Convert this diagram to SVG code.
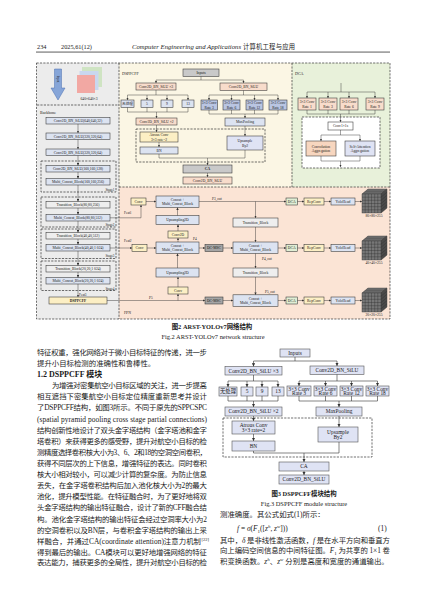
<svg xmlns="http://www.w3.org/2000/svg" width="427" height="603" viewBox="0 0 427 603">
<defs>
<style>
.f{font-family:"Liberation Serif","Noto Sans CJK SC",serif;fill:#1a1a1a}
.s{font-size:3.7px;text-anchor:middle}
.st{font-size:3.3px;text-anchor:end}
.m{font-size:5.4px;text-anchor:middle}
.b{font-size:7.4px}
.h{font-size:6.3px}
.cap{font-size:6.4px;text-anchor:middle}
.c{stroke:#333;stroke-width:0.45;fill:none}
.c3{stroke:#333;stroke-width:0.6;fill:none}
.ar{marker-end:url(#a)}
.ar3{marker-end:url(#a3)}
.dash{fill:none;stroke:#333;stroke-width:0.7;stroke-dasharray:2.2 1.2}
.bx{stroke:#333;stroke-width:0.55}
.bx3{stroke:#555;stroke-width:0.6}
.lb{fill:#dce3f1}
.yl{fill:#fcefc4}
.gy{fill:#c9c9c9}
.lg{fill:#eeeeee}
.pc{fill:#f8dccb}
.db{fill:#b9c5e2}
.gn{fill:#e0eed4}
.dg{fill:#a5a5a5}
.lv{fill:#dfe3f4}
.wh{fill:#ffffff}
</style>
<marker id="a" viewBox="0 0 6 6" refX="6" refY="3" markerWidth="2.4" markerHeight="2.4" markerUnits="userSpaceOnUse" orient="auto"><path d="M0,0 L6,3 L0,6 z" fill="#333"/></marker>
<marker id="a3" viewBox="0 0 6 6" refX="6" refY="3" markerWidth="3.2" markerHeight="3.2" markerUnits="userSpaceOnUse" orient="auto"><path d="M0,0 L6,3 L0,6 z" fill="#333"/></marker>
<g id="cube">
<polygon points="0,5 6,0 25,0 19,5" fill="#8c8c8c" stroke="#333" stroke-width="0.4"/>
<polygon points="19,5 25,0 25,19 19,24" fill="#5a5a5a" stroke="#333" stroke-width="0.4"/>
<rect x="0" y="5" width="19" height="19" fill="#777" stroke="#333" stroke-width="0.4"/>
<path d="M3.2,5V24M6.3,5V24M9.5,5V24M12.7,5V24M15.8,5V24M0,8.2H19M0,11.3H19M0,14.5H19M0,17.7H19M0,20.8H19M1,4.2H20M2,3.3H21M3,2.5H22M4,1.7H23M5,0.8H24M20,4.2V23.2M21,3.3V22.3M22,2.5V21.5M23,1.7V20.7M24,0.8V19.8M19,8.2L25,3.2M19,11.3L25,6.3M19,14.5L25,9.5M19,17.7L25,12.7M19,20.8L25,15.8" stroke="#2a2a2a" stroke-width="0.35" fill="none"/>
</g>
</defs>
<rect width="427" height="603" fill="#fff"/>

<!-- header -->
<g id="header">
<text class="f h" x="37" y="49">234</text>
<text class="f h" x="61" y="49">2025,61(12)</text>
<text class="f h" x="132" y="49" font-style="italic" textLength="109" lengthAdjust="spacingAndGlyphs">Computer Engineering and Applications</text>
<text class="f h" x="243" y="49" textLength="52" lengthAdjust="spacing">计算机工程与应用</text>
<rect x="36" y="51.3" width="354" height="1.6" fill="#9a9a9a"/>
</g>

<!-- Figure 2 panels -->
<g id="panels">
<rect x="37" y="63" width="82" height="256" fill="#ececec"/>
<rect x="119" y="63" width="173" height="124" fill="#fbf6e4"/>
<rect x="292" y="63" width="98" height="124" fill="#e8f1da"/>
<rect x="119" y="187" width="271" height="132" fill="#fbe4d5"/>
<rect class="dash" x="36.5" y="63" width="353.5" height="256"/>
<path class="dash" d="M37,105H119M119,63V319M119,187H390M292,63V187"/>
<text class="f" x="40" y="113.5" font-size="4">Backbone</text>
<text class="f" x="122" y="74.5" font-size="4">DSPPCFF</text>
<text class="f" x="295" y="74.5" font-size="4">DCA</text>
<text class="f" x="124" y="313.5" font-size="3.8">FPN</text>
</g>

<!-- input -->
<g id="input">
<polygon points="54.5,69 61.5,69 61.5,88 65,88 58,100 51,88 54.5,88" fill="#86a5d8" stroke="#4a6fb0" stroke-width="0.5"/>
<text class="f" x="58" y="79" font-size="3.3" text-anchor="middle" transform="rotate(90 58 79)" dominant-baseline="central">Input</text>
<rect x="82" y="67" width="20" height="20" fill="#cfe4c3"/>
<rect x="79.5" y="71" width="19" height="19" fill="#c9d7ef"/>
<rect x="77" y="75" width="18" height="18" fill="#f2a8a3"/>
<text class="f s" x="89" y="100">640×640×3</text>
</g>

<!-- Backbone -->
<g id="stages">
<rect x="41" y="161" width="75" height="31" fill="#f6f6f6" class="dash"/>
<rect x="41" y="197" width="75" height="30" fill="#f6f6f6" class="dash"/>
<rect x="41" y="229" width="75" height="29.5" fill="#f6f6f6" class="dash"/>
<rect x="41" y="261" width="75" height="29.5" fill="#f6f6f6" class="dash"/>
<text class="f st" x="114.5" y="191">Stage1</text>
<text class="f st" x="114.5" y="226">Stage2</text>
<text class="f st" x="114.5" y="257.3">Stage3</text>
<text class="f st" x="114.5" y="289.5">Stage4</text>
</g>
<g id="bb1"><rect class="bx lb" x="46" y="117.5" width="64" height="6.5"/><text class="f s" x="78" y="122.1">Conv2D_BN_SiLU(640,640,32)</text></g>
<g id="bb2"><rect class="bx lb" x="46" y="133" width="64" height="6.5"/><text class="f s" x="78" y="137.6">Conv2D_BN_SiLU(320,320,64)</text></g>
<g id="bb3"><rect class="bx lb" x="46" y="149" width="64" height="6.5"/><text class="f s" x="78" y="153.6">Conv2D_BN_SiLU(320,320,64)</text></g>
<g id="s1a"><rect class="bx lb" x="46" y="165.5" width="64" height="6.5"/><text class="f s" x="78" y="170.1">Conv2D_BN_SiLU(160,160,128)</text></g>
<g id="s1b"><rect class="bx lb" x="46" y="178.5" width="64" height="6.5"/><text class="f s" x="78" y="183.1">Multi_Concat_Block(160,160,256)</text></g>
<g id="s2a"><rect class="bx lg" x="46" y="201.5" width="64" height="6.5"/><text class="f s" x="78" y="206.1">Transition_Block(80,80,256)</text></g>
<g id="s2b"><rect class="bx lb" x="46" y="214.5" width="64" height="6.5"/><text class="f s" x="78" y="219.1">Multi_Concat_Block(80,80,512)</text></g>
<g id="s3a"><rect class="bx lg" x="46" y="232.5" width="64" height="6.5"/><text class="f s" x="78" y="237.1">Transition_Block(40,40,512)</text></g>
<g id="s3b"><rect class="bx lb" x="46" y="244.5" width="64" height="6.5"/><text class="f s" x="78" y="249.1">Multi_Concat_Block(40,40,1 024)</text></g>
<g id="s4a"><rect class="bx lg" x="46" y="265.5" width="64" height="6.5"/><text class="f s" x="78" y="270.1">Transition_Block(20,20,1 024)</text></g>
<g id="s4b"><rect class="bx lb" x="46" y="277.5" width="64" height="6.5"/><text class="f s" x="78" y="282.1">Multi_Concat_Block(20,20,1 024)</text></g>
<g id="bbspp"><rect class="bx yl" x="49" y="297" width="58" height="7"/><text class="f s" x="78" y="301.8" font-weight="bold">DSPPCFF</text></g>

<!-- DSPPCFF panel nodes -->
<g id="d_in"><rect class="bx gy" x="183" y="69" width="36" height="7.5"/><text class="f s" x="201" y="74">Inputs</text></g>
<g id="d_c3"><rect class="bx pc" x="136" y="83" width="40" height="7"/><text class="f s" x="156" y="87.8">Conv2D_BN_SiLU ×3</text></g>
<g id="d_cr"><rect class="bx pc" x="220" y="83" width="47" height="7.5"/><text class="f s" x="243.5" y="88">Conv2D_BN_SiLU</text></g>
<g id="d_p0"><rect class="bx lb" x="121" y="100" width="13" height="7.5"/><text class="f s" x="127.5" y="105">无处理</text></g>
<g id="d_p5"><rect class="bx lb" x="141" y="100" width="12" height="7.5"/><text class="f s" x="147" y="105">5</text></g>
<g id="d_p9"><rect class="bx lb" x="161" y="100" width="12" height="7.5"/><text class="f s" x="167" y="105">9</text></g>
<g id="d_p13"><rect class="bx lb" x="182" y="100" width="12" height="7.5"/><text class="f s" x="188" y="105">13</text></g>
<g id="d_r3"><rect class="bx db" x="201" y="100" width="16.5" height="10"/><text class="f s" x="209.2" y="104.2">3×3 Conv</text><text class="f s" x="209.2" y="108.6">Rate 3</text></g>
<g id="d_r6"><rect class="bx db" x="223" y="100" width="17" height="10"/><text class="f s" x="231.5" y="104.2">3×3 Conv</text><text class="f s" x="231.5" y="108.6">Rate 6</text></g>
<g id="d_r12"><rect class="bx db" x="246" y="100" width="17" height="10"/><text class="f s" x="254.5" y="104.2">3×3 Conv</text><text class="f s" x="254.5" y="108.6">Rate 12</text></g>
<g id="d_r18"><rect class="bx db" x="269" y="100" width="18" height="10"/><text class="f s" x="278" y="104.2">3×3 Conv</text><text class="f s" x="278" y="108.6">Rate 18</text></g>
<g id="d_c2"><rect class="bx pc" x="136" y="118" width="41" height="7"/><text class="f s" x="156.5" y="122.8">Conv2D_BN_SiLU ×2</text></g>
<g id="d_mp"><rect class="bx lb" x="225" y="118" width="40" height="8"/><text class="f s" x="245" y="123.3">MaxPooling</text></g>
<rect class="dash" x="136" y="129" width="129" height="33" stroke-width="0.6"/>
<g id="d_at"><rect class="bx yl" x="140" y="132" width="38" height="10"/><text class="f s" x="159" y="136.3">Atrous Conv</text><text class="f s" x="159" y="140.6">3×3 rate=2</text></g>
<g id="d_bn"><rect class="bx lb" x="140" y="147" width="38" height="7"/><text class="f s" x="159" y="151.8">BN</text></g>
<g id="d_up"><rect class="bx lv" x="227" y="136" width="36" height="14"/><text class="f s" x="245" y="142">Upsample</text><text class="f s" x="245" y="146.6">By2</text></g>
<g id="d_ca"><rect class="bx gy" x="183" y="165" width="49" height="8"/><text class="f s" x="207.5" y="170.3" font-weight="bold">CA</text></g>
<g id="d_out"><rect class="bx pc" x="183" y="177" width="49" height="7"/><text class="f s" x="207.5" y="181.8">Conv2D_BN_SiLU</text></g>

<!-- DCA panel nodes -->
<g id="a_r1"><rect class="bx pc" x="298" y="98" width="18" height="12"/><text class="f s" x="307" y="103.2">3×3 Conv</text><text class="f s" x="307" y="107.8">Rate 1</text></g>
<g id="a_r3"><rect class="bx pc" x="319" y="98" width="18" height="12"/><text class="f s" x="328" y="103.2">3×3 Conv</text><text class="f s" x="328" y="107.8">Rate 3</text></g>
<g id="a_r6"><rect class="bx pc" x="340" y="98" width="18" height="12"/><text class="f s" x="349" y="103.2">3×3 Conv</text><text class="f s" x="349" y="107.8">Rate 6</text></g>
<g id="a_r9"><rect class="bx pc" x="366" y="98" width="18" height="12"/><text class="f s" x="375" y="103.2">3×3 Conv</text><text class="f s" x="375" y="107.8">Rate 9</text></g>
<rect x="302" y="117" width="78" height="51" fill="#fff"/>
<rect class="dash" x="302" y="117" width="78" height="51" stroke-width="0.6"/>
<g id="a_c1"><rect class="bx wh" x="328" y="122" width="25" height="8"/><text class="f s" x="340.5" y="127.3">Conv1×1s</text></g>
<g id="a_ca"><rect class="bx" fill="#f7d6bf" stroke="#8a5a3a" x="306" y="141" width="30" height="15"/><text class="f s" x="321" y="147.5">Convolution</text><text class="f s" x="321" y="152.3">Aggregation</text></g>
<g id="a_sa"><rect class="bx lv" x="345" y="141" width="30" height="15"/><text class="f s" x="360" y="147.5">Self-Attention</text><text class="f s" x="360" y="152.3">Aggregation</text></g>

<!-- FPN nodes -->
<g id="f_cv1"><rect class="bx yl" x="131" y="198" width="15" height="7"/><text class="f s" x="138.5" y="202.8">Conv</text></g>
<g id="f_cv2"><rect class="bx yl" x="132" y="244.5" width="15" height="7"/><text class="f s" x="139.5" y="249.3">Conv</text></g>
<g id="f_mc1"><rect class="bx lb" x="156" y="196" width="43" height="11.5"/><text class="f s" x="177.5" y="200.7">Concat +</text><text class="f s" x="177.5" y="205.3">Multi_Concat_Block</text></g>
<g id="f_up1"><rect class="bx lb" x="156" y="215.5" width="43" height="9"/><text class="f s" x="177.5" y="221.3">Upsampling2D</text></g>
<g id="f_c2d"><rect class="bx yl" x="168" y="231" width="20" height="7"/><text class="f s" x="178" y="235.8">Conv2D</text></g>
<g id="f_mc2"><rect class="bx lb" x="156" y="242" width="43" height="11.5"/><text class="f s" x="177.5" y="246.7">Concat +</text><text class="f s" x="177.5" y="251.3">Multi_Concat_Block</text></g>
<g id="f_up2"><rect class="bx lb" x="156" y="268" width="43" height="9"/><text class="f s" x="177.5" y="273.8">Upsampling2D</text></g>
<g id="f_cv3"><rect class="bx yl" x="168" y="287" width="20" height="7"/><text class="f s" x="178" y="291.8">Conv</text></g>
<g id="f_tb1"><rect class="bx lg" x="233" y="218" width="45" height="9"/><text class="f s" x="255.5" y="223.8">Transition_Block</text></g>
<g id="f_tb2"><rect class="bx lg" x="233" y="268" width="45" height="9"/><text class="f s" x="255.5" y="273.8">Transition_Block</text></g>
<g id="f_dm1"><rect class="bx dg" x="205" y="244.5" width="18" height="7"/><text class="f s" x="214" y="249.3">DC-MSC</text></g>
<g id="f_dm2"><rect class="bx dg" x="205" y="297" width="18" height="7"/><text class="f s" x="214" y="301.8">DC-MSC</text></g>
<g id="f_mc3"><rect class="bx lb" x="233" y="242" width="45" height="11.5"/><text class="f s" x="255.5" y="246.7">Concat +</text><text class="f s" x="255.5" y="251.3">Multi_Concat_Block</text></g>
<g id="f_mc4"><rect class="bx lb" x="233" y="294.8" width="45" height="11.5"/><text class="f s" x="255.5" y="299.5">Concat +</text><text class="f s" x="255.5" y="304.1">Multi_Concat_Block</text></g>
<g id="f_dca1"><rect class="bx gn" x="286" y="198" width="11.5" height="7"/><text class="f s" x="291.75" y="202.8">DCA</text></g>
<g id="f_dca2"><rect class="bx gn" x="286" y="244.5" width="11.5" height="7"/><text class="f s" x="291.75" y="249.3">DCA</text></g>
<g id="f_dca3"><rect class="bx gn" x="286" y="297" width="11.5" height="7"/><text class="f s" x="291.75" y="301.8">DCA</text></g>
<g id="f_rc1"><rect class="bx yl" x="304" y="198" width="20" height="7"/><text class="f s" x="314" y="202.8">RepConv</text></g>
<g id="f_rc2"><rect class="bx yl" x="304" y="244.5" width="20" height="7"/><text class="f s" x="314" y="249.3">RepConv</text></g>
<g id="f_rc3"><rect class="bx yl" x="304" y="297" width="20" height="7"/><text class="f s" x="314" y="301.8">RepConv</text></g>
<g id="f_yh1"><rect class="bx lb" x="331" y="198" width="24" height="7"/><text class="f s" x="343" y="202.8">YoloHead</text></g>
<g id="f_yh2"><rect class="bx lb" x="331" y="244.5" width="24" height="7"/><text class="f s" x="343" y="249.3">YoloHead</text></g>
<g id="f_yh3"><rect class="bx lb" x="331" y="297" width="24" height="7"/><text class="f s" x="343" y="301.8">YoloHead</text></g>
<g id="o1"><use href="#cube" x="362" y="189"/><text class="f s" x="374" y="217">80×80×255</text></g>
<g id="o2"><use href="#cube" x="362" y="236"/><text class="f s" x="374" y="263.5">40×40×255</text></g>
<g id="o3"><use href="#cube" x="362" y="288"/><text class="f s" x="374" y="316">20×20×255</text></g>

<!-- connectors figure 2 -->
<g id="connectors2">
<path class="c ar" d="M78,124V133"/>
<path class="c ar" d="M78,139.5V149"/>
<path class="c ar" d="M78,155.5V165.5"/>
<path class="c ar" d="M78,172V178.5"/>
<path class="c ar" d="M78,185V201.5"/>
<path class="c ar" d="M78,208V214.5"/>
<path class="c ar" d="M78,221V232.5"/>
<path class="c ar" d="M78,239V244.5"/>
<path class="c ar" d="M78,251V265.5"/>
<path class="c ar" d="M78,272V277.5"/>
<path class="c ar" d="M78,284V297"/>
<path class="c ar" d="M110,217.8H141V205"/>
<path class="c ar" d="M110,248H132"/>
<path class="c ar" d="M107,300.5H205"/>
<path class="c ar" d="M178,300.5V294"/>
<path class="c ar" d="M146,201.5H156"/>
<path class="c ar" d="M147,248H156"/>
<path class="c ar" d="M177.5,215.5V207.5"/>
<path class="c ar" d="M178,231V224.5"/>
<path class="c ar" d="M178,242V238"/>
<path class="c ar" d="M177.5,268V253.5"/>
<path class="c ar" d="M178,287V277"/>
<path class="c ar" d="M199,201.5H286"/>
<path class="c ar" d="M255.5,201.5V218"/>
<path class="c ar" d="M255.5,227V242"/>
<path class="c ar" d="M255.5,253.5V268"/>
<path class="c ar" d="M255.5,277V294.8"/>
<path class="c ar" d="M199,248H205"/>
<path class="c ar" d="M223,248H233"/>
<path class="c ar" d="M278,248H286"/>
<path class="c ar" d="M223,300.5H233"/>
<path class="c ar" d="M278,300.5H286"/>
<path class="c ar" d="M297.5,201.5H304"/><path class="c ar" d="M324,201.5H331"/><path class="c ar" d="M355,201.5H362"/>
<path class="c ar" d="M297.5,248H304"/><path class="c ar" d="M324,248H331"/><path class="c ar" d="M355,248H362"/>
<path class="c ar" d="M297.5,300.5H304"/><path class="c ar" d="M324,300.5H331"/><path class="c ar" d="M355,300.5H362"/>
<!-- DSPPCFF -->
<path class="c" d="M201,76.5V80M156,80H243.5"/>
<path class="c ar" d="M156,80V83"/><path class="c ar" d="M243.5,80V83"/>
<path class="c" d="M156,90V95M127.5,95H188"/>
<path class="c ar" d="M127.5,95V100"/><path class="c ar" d="M147,95V100"/><path class="c ar" d="M167,95V100"/><path class="c ar" d="M188,95V100"/>
<path class="c" d="M127.5,107.5V112M147,107.5V112M167,107.5V112M188,107.5V112M127.5,112H188"/>
<path class="c ar" d="M156.5,112V118"/>
<path class="c" d="M243.5,90.5V95M209,95H278"/>
<path class="c ar" d="M209,95V100"/><path class="c ar" d="M231.5,95V100"/><path class="c ar" d="M254.5,95V100"/><path class="c ar" d="M278,95V100"/>
<path class="c" d="M209,110V114M231.5,110V114M254.5,110V114M278,110V114M209,114H278"/>
<path class="c ar" d="M245,114V118"/>
<path class="c ar" d="M156.5,125V132"/>
<path class="c ar" d="M159,142V147"/>
<path class="c ar" d="M245,126V136"/>
<path class="c" d="M159,154V158M245,150V158M159,158H245"/>
<path class="c ar" d="M207.5,158V165"/>
<path class="c ar" d="M207.5,173V177"/>
<!-- DCA -->
<path class="c" d="M341,83V92M307,92H375"/>
<path class="c ar" d="M307,92V98"/><path class="c ar" d="M328,92V98"/><path class="c ar" d="M349,92V98"/><path class="c ar" d="M375,92V98"/>
<path class="c" d="M307,110V114M328,110V114M349,110V114M375,110V114M307,114H375"/>
<path class="c ar" d="M340.5,114V122"/>
<path class="c" d="M340.5,130V135M321,135H360"/>
<path class="c ar" d="M321,135V141"/><path class="c ar" d="M360,135V141"/>
<path class="c" d="M321,156V161M360,156V161M321,161H360"/>
<path class="c ar" d="M340.5,161V167"/>
</g>
<g id="labels2">
<text class="f" x="124" y="214" font-size="3.4">Feat1</text>
<text class="f" x="124" y="241.5" font-size="3.4">Feat2</text>
<text class="f" x="79" y="295.5" font-size="3.4">Feat3</text>
<text class="f" x="149" y="299" font-size="3.4">P5</text>
<text class="f" x="193" y="240" font-size="3.4">P4</text>
<text class="f" x="212" y="199.5" font-size="3.4">P3_out</text>
<text class="f" x="262" y="259.5" font-size="3.4">P4_out</text>
<text class="f" x="265" y="292.5" font-size="3.4">P5_out</text>
</g>
<g id="caption2">
<text class="f cap" x="212" y="329" font-weight="bold">图2  ARST-YOLOv7网络结构</text>
<text class="f cap" x="213" y="339.3" font-size="6.1">Fig.2  ARST-YOLOv7 network structure</text>
</g>

<!-- Figure 3 -->
<g id="g_in"><rect class="bx3 lv" x="280" y="349" width="30" height="8"/><text class="f m" x="295" y="354.9">Inputs</text></g>
<g id="g_c3"><rect class="bx3 lv" x="225" y="366.5" width="57" height="8.5"/><text class="f m" x="253.5" y="372.6">Conv2D_BN_SiLU ×3</text></g>
<g id="g_cr"><rect class="bx3 lv" x="310" y="366" width="54" height="8.5"/><text class="f m" x="337" y="372.1">Conv2D_BN_SiLU</text></g>
<g id="g_p0"><rect class="bx3 lv" x="219" y="387" width="18" height="9"/><text class="f m" x="228" y="393.4">无处理</text></g>
<g id="g_p5"><rect class="bx3 lv" x="241" y="387" width="12" height="9"/><text class="f m" x="247" y="393.4">5</text></g>
<g id="g_p9"><rect class="bx3 lv" x="256" y="387" width="12" height="9"/><text class="f m" x="262" y="393.4">9</text></g>
<g id="g_p13"><rect class="bx3 lv" x="272" y="387" width="12" height="9"/><text class="f m" x="278" y="393.4">13</text></g>
<g id="g_r3"><rect class="bx3 lv" x="287" y="386" width="24" height="10"/><text class="f m" x="299" y="390.7">3×3 Conv</text><text class="f m" x="299" y="395.4">Rate 3</text></g>
<g id="g_r6"><rect class="bx3 lv" x="314" y="386" width="23" height="10"/><text class="f m" x="325.5" y="390.7">3×3 Conv</text><text class="f m" x="325.5" y="395.4">Rate 6</text></g>
<g id="g_r12"><rect class="bx3 lv" x="340" y="386" width="23" height="10"/><text class="f m" x="351.5" y="390.7">3×3 Conv</text><text class="f m" x="351.5" y="395.4">Rate 12</text></g>
<g id="g_r18"><rect class="bx3 lv" x="366" y="386" width="23" height="10"/><text class="f m" x="377.5" y="390.7">3×3 Conv</text><text class="f m" x="377.5" y="395.4">Rate 18</text></g>
<g id="g_c2"><rect class="bx3 lv" x="225" y="407" width="57" height="9"/><text class="f m" x="253.5" y="413.4">Conv2D_BN_SiLU ×2</text></g>
<g id="g_mp"><rect class="bx3 lv" x="316" y="407" width="46" height="9"/><text class="f m" x="339" y="413.4">MaxPooling</text></g>
<rect class="dash" x="223" y="418" width="149" height="39"/>
<g id="g_at"><rect class="bx3 lv" x="232" y="421" width="43" height="13"/><text class="f m" x="253.5" y="426.6">Atrous Conv</text><text class="f m" x="253.5" y="432.2">3×3 rate=2</text></g>
<g id="g_bn"><rect class="bx3 lv" x="232" y="441" width="43" height="10"/><text class="f m" x="253.5" y="447.9">BN</text></g>
<g id="g_up"><rect class="bx3 lv" x="318" y="427" width="40" height="15"/><text class="f m" x="338" y="433.6">Upsample</text><text class="f m" x="338" y="439.4">By2</text></g>
<g id="g_ca"><rect class="bx3 lv" x="279" y="462" width="50" height="9"/><text class="f m" x="304" y="468.4">CA</text></g>
<g id="g_out"><rect class="bx3 lv" x="279" y="475" width="50" height="9"/><text class="f m" x="304" y="481.4">Conv2D_BN_SiLU</text></g>
<g id="connectors3">
<path class="c3" d="M295,357V361M253.5,361H337"/>
<path class="c3 ar3" d="M253.5,361V366.5"/><path class="c3 ar3" d="M337,361V366"/>
<path class="c3" d="M253.5,375V381M228,381H278"/>
<path class="c3 ar3" d="M228,381V387"/><path class="c3 ar3" d="M247,381V387"/><path class="c3 ar3" d="M262,381V387"/><path class="c3 ar3" d="M278,381V387"/>
<path class="c3" d="M228,396V401M247,396V401M262,396V401M278,396V401M228,401H278"/>
<path class="c3 ar3" d="M253.5,401V407"/>
<path class="c3" d="M337,374.5V381M299,381H377.5"/>
<path class="c3 ar3" d="M299,381V386"/><path class="c3 ar3" d="M325.5,381V386"/><path class="c3 ar3" d="M351.5,381V386"/><path class="c3 ar3" d="M377.5,381V386"/>
<path class="c3" d="M299,396V401M325.5,396V401M351.5,396V401M377.5,396V401M299,401H377.5"/>
<path class="c3 ar3" d="M339,401V407"/>
<path class="c3 ar3" d="M253.5,416V421"/>
<path class="c3 ar3" d="M253.5,434V441"/>
<path class="c3 ar3" d="M339,416V427"/>
<path class="c3" d="M253.5,451V453M339,442V453M253.5,453H339"/>
<path class="c3 ar3" d="M304,453V462"/>
<path class="c3 ar3" d="M304,471V475"/>
</g>
<g id="caption3">
<text class="f cap" x="304" y="495.5" font-weight="bold">图3  DSPPCFF模块结构</text>
<text class="f cap" x="304" y="505.5" font-size="6.1">Fig.3  DSPPCFF module structure</text>
</g>

<!-- body text left -->
<g id="textleft" class="f b">
<text x="37" y="355.4" textLength="170" lengthAdjust="spacing">特征权重，强化网络对于微小目标特征的传递，进一步</text>
<text x="37" y="366">提升小目标检测的准确性和鲁棒性。</text>
<text x="37" y="377.2" font-size="8" font-weight="bold">1.2  DSPPCFF 模块</text>
<text x="52" y="387.7" textLength="155" lengthAdjust="spacing">为增强对密集航空小目标区域的关注，进一步提高</text>
<text x="37" y="399.4" textLength="170" lengthAdjust="spacing">相互遮挡下密集航空小目标定位精度重新思考并设计</text>
<text x="37" y="410.4" textLength="170" lengthAdjust="spacing">了DSPPCFF结构，如图3所示。不同于原先的SPPCSPC</text>
<text x="37" y="422" textLength="170" lengthAdjust="spacing">(spatial pyramid pooling cross stage partial connections)</text>
<text x="37" y="432.7" textLength="170" lengthAdjust="spacing">结构创新性地设计了双头金字塔结构（金字塔池和金字</text>
<text x="37" y="443.7" textLength="170" lengthAdjust="spacing">塔卷积）来获得更多的感受野，提升对航空小目标的检</text>
<text x="37" y="454.7" textLength="170" lengthAdjust="spacing">测精度选择卷积核大小为3、6、2和18的空洞空间卷积，</text>
<text x="37" y="466" textLength="170" lengthAdjust="spacing">获得不同层次的上下信息，增强特征的表达。同时卷积</text>
<text x="37" y="477" textLength="170" lengthAdjust="spacing">核大小相对较小，可以减少计算的复杂度。为防止信息</text>
<text x="37" y="488.4" textLength="170" lengthAdjust="spacing">丢失，在金字塔卷积结构后加入池化核大小为2的最大</text>
<text x="37" y="499.4" textLength="170" lengthAdjust="spacing">池化，提升模型性能。在特征融合时，为了更好地将双</text>
<text x="37" y="510.4" textLength="170" lengthAdjust="spacing">头金字塔结构的输出特征融合，设计了新的CFF融合结</text>
<text x="37" y="521.7" textLength="170" lengthAdjust="spacing">构。池化金字塔结构的输出特征会经过空洞率大小为2</text>
<text x="37" y="532.7" textLength="170" lengthAdjust="spacing">的空洞卷积以及BN层，与卷积金字塔结构的输出上采</text>
<text x="37" y="543.7" textLength="164" lengthAdjust="spacing">样融合，并通过CA(coordinate attention)注意力机制</text>
<text x="201.5" y="540.5" font-size="4.5">[22]</text>
<text x="37" y="554.7" textLength="170" lengthAdjust="spacing">得到最后的输出。CA模块可以更好地增强网络的特征</text>
<text x="37" y="565.4" textLength="170" lengthAdjust="spacing">表达能力，捕获更多的全局性，提升对航空小目标的检</text>
</g>

<!-- body text right -->
<g id="textright" class="f b">
<text x="220" y="516.7">测准确度。其公式如式(1)所示：</text>
<text x="237" y="531"><tspan font-style="italic">f</tspan> = <tspan font-style="italic">σ</tspan>(<tspan font-style="italic">F</tspan><tspan font-size="5" dy="1.5">1</tspan><tspan dy="-1.5">([</tspan><tspan font-style="italic">z</tspan><tspan font-size="5" dy="-3" font-style="italic">h</tspan><tspan dy="3">, </tspan><tspan font-style="italic">z</tspan><tspan font-size="5" dy="-3" font-style="italic">w</tspan><tspan dy="3">]))</tspan></text>
<text x="378" y="531">(1)</text>
<text x="220" y="542.7" textLength="170" lengthAdjust="spacing">其中，<tspan font-style="italic">δ</tspan> 是非线性激活函数，<tspan font-style="italic">f</tspan> 是在水平方向和垂直方</text>
<text x="220" y="553.4" textLength="170" lengthAdjust="spacing">向上编码空间信息的中间特征图。<tspan font-style="italic">F</tspan><tspan font-size="5" dy="1.5">1</tspan><tspan dy="-1.5"> 为共享的 1×1 卷</tspan></text>
<text x="220" y="564.4">积变换函数。<tspan font-style="italic">z</tspan><tspan font-size="5" dy="-3" font-style="italic">h</tspan><tspan dy="3">、</tspan><tspan font-style="italic">z</tspan><tspan font-size="5" dy="-3" font-style="italic">w</tspan><tspan dy="3"> 分别是高度和宽度的通道输出。</tspan></text>
</g>
</svg>
